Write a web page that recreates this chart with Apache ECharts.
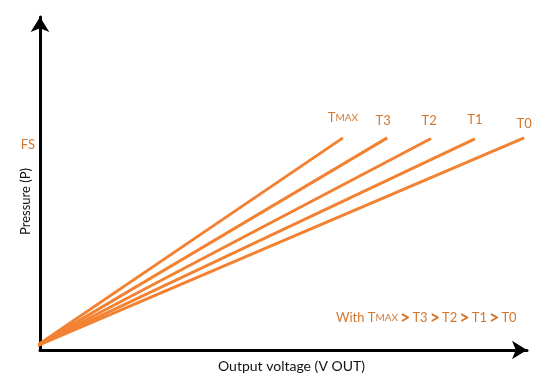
<!DOCTYPE html>
<html><head><meta charset="utf-8">
<script src="https://cdn.jsdelivr.net/npm/echarts@6/dist/echarts.min.js"></script>
<style>html,body{margin:0;padding:0;background:#fff}#c{width:550px;height:379px}</style>
</head><body><div id="c"></div>
<script>
// Data
const seriesNames = ['TMAX', 'T3', 'T2', 'T1', 'T0'];
const startPoint = [-1, 1];
const endVoltage = [62.2, 71.3, 80.3, 89.3, 99.4];
const endPressure = [63.7, 63.7, 63.5, 63.4, 63.7];
const yTickValues = [61.6];
const yTickLabels = ['FS'];
const xAxisName = 'Output voltage (V OUT)';
const yAxisName = 'Pressure (P)';

const lineColor = '#F28232';
const textColor = '#D4772E';
const labelOffsets = [[0, -2], [-4, 1], [-2, 1], [0, -1], [0, 4]];

function nameRich(n) {
  if (n === 'TMAX') return '{t|T}{s|MAX}';
  return '{t|' + n + '}';
}
const rich = {
  t: { fontSize: 13, color: textColor, fill: textColor, fontFamily: 'Lato' },
  s: { fontSize: 10, color: textColor, fill: textColor, fontFamily: 'Lato' },
  g: { fontSize: 18, fontWeight: 'bold', color: textColor, fill: textColor, fontFamily: 'Lato', padding: [0, 2, 0, 2] }
};

const series = seriesNames.map((n, i) => ({
  name: n,
  type: 'line',
  clip: false,
  symbol: 'circle',
  symbolSize: 0,
  showSymbol: true,
  silent: true,
  itemStyle: { color: lineColor },
  lineStyle: { color: lineColor, width: 3 },
  data: [
    { value: startPoint, label: { show: false } },
    {
      value: [endVoltage[i], endPressure[i]],
      label: {
        show: true,
        position: 'top',
        distance: 12,
        offset: labelOffsets[i],
        formatter: nameRich(n),
        rich: rich
      }
    }
  ]
}));

let note = '{t|With }{t|T}{s|MAX}';
seriesNames.slice(1).forEach(n => { note += '{g|>}{t|' + n + '}'; });

const chart = echarts.init(document.getElementById('c'));
chart.setOption({
  animation: false,
  grid: { left: 40, right: 23, top: 17, bottom: 29, outerBoundsMode: 'none', containLabel: false },
  xAxis: {
    type: 'value', min: 0, max: 100,
    name: xAxisName, nameLocation: 'middle', nameGap: 9, nameMoveOverlap: false,
    nameTextStyle: { color: '#111', fontSize: 14, fontFamily: 'Lato', verticalAlign: 'top', padding: [0, 0, 0, 16] },
    axisLine: { show: true, lineStyle: { color: '#000', width: 3 }, symbol: ['none', 'arrow'], symbolSize: [14, 15] },
    axisTick: { show: false }, axisLabel: { show: false }, splitLine: { show: false }
  },
  yAxis: {
    type: 'value', min: 0, max: 100,
    name: yAxisName, nameLocation: 'middle', nameGap: 8, nameRotate: 90, nameMoveOverlap: false,
    nameTextStyle: { color: '#111', fontSize: 13, fontFamily: 'Lato', padding: [0, 36, 0, 0] },
    axisLine: { show: true, lineStyle: { color: '#000', width: 3 }, symbol: ['none', 'arrow'], symbolSize: [14, 15] },
    axisTick: { show: false },
    axisLabel: {
      show: true, customValues: yTickValues, margin: 5,
      color: textColor, fontSize: 13, fontFamily: 'Lato',
      formatter: (v) => { const k = yTickValues.indexOf(v); return k >= 0 ? yTickLabels[k] : ''; }
    },
    splitLine: { show: false }
  },
  graphic: [{
    type: 'text', left: 336, top: 309,
    style: { text: note, rich: rich, fill: textColor }
  }],
  series: series
});
</script></body></html>
